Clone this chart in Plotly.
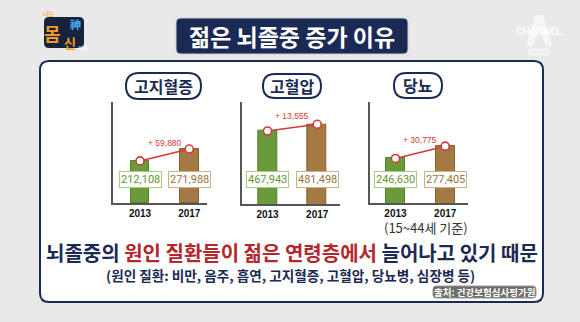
import plotly.graph_objects as go

W, H = 580, 322

# ---------------- data ----------------
years = ["2013", "2017"]
diseases = ["고지혈증", "고혈압", "당뇨"]
lipid = [212108, 271988]
pressure = [467943, 481498]
diabetes = [246630, 277405]
series = [lipid, pressure, diabetes]

title_text = "젊은 뇌졸중 증가 이유"
basis_text = "(15~44세 기준)"
main_a = "뇌졸중의 "
main_b = "원인 질환들이 젊은 연령층에서"
main_c = " 늘어나고 있기 때문"
sub_text = "(원인 질환: 비만, 음주, 흡연, 고지혈증, 고혈압, 당뇨병, 심장병 등)"
source_text = "출처: 건강보험심사평가원"

# ---------------- layout helpers ----------------
def px(x):
    return x / W

def py(y):
    return 1 - y / H

def rrect(x0, y0, x1, y1, r):
    rx, ry = r / W, r / H
    X0, X1 = px(x0), px(x1)
    Y0, Y1 = py(y0), py(y1)  # Y0 top (larger), Y1 bottom
    return (f"M {X0+rx},{Y0} L {X1-rx},{Y0} Q {X1},{Y0} {X1},{Y0-ry} "
            f"L {X1},{Y1+ry} Q {X1},{Y1} {X1-rx},{Y1} "
            f"L {X0+rx},{Y1} Q {X0},{Y1} {X0},{Y1+ry} "
            f"L {X0},{Y0-ry} Q {X0},{Y0} {X0+rx},{Y0} Z")

def poly(points):
    return "M " + " L ".join(f"{px(x)},{py(y)}" for x, y in points) + " Z"

def label(text, x, y, size, color, family="Noto Sans CJK KR", bold=True, **kw):
    d = dict(text=text, x=px(x), y=py(y), xref="paper", yref="paper", showarrow=False,
             xanchor="center", yanchor="middle",
             font=dict(family=family, size=size, color=color, weight="bold" if bold else "normal"))
    d.update(kw)
    return d

NAVY = "#1b2a55"
RED = "#d63a36"
GREEN = "#6a9b3b"
BROWN = "#a47944"
GREEN_T = "#5f9a30"
BROWN_T = "#9a7444"

# panel geometry (pixels): x-axis span, y-axis span, x-range, y-range
panels = [
    dict(xd=(113, 207), yd=(102, 203), xr=(-0.548, 1.359), yr=(0, 509000)),
    dict(xd=(242.3, 340), yd=(101.7, 204), xr=(-0.507, 1.459), yr=(320170, 527260)),
    dict(xd=(370, 468), yd=(102, 203.3), xr=(-0.513, 1.459), yr=(134040, 388240)),
]
pills = [(126, 73, 201, 99), (263, 74, 321, 98), (394, 73, 442, 98)]

fig = go.Figure()
annotations = []
shapes = []

# background panel and title box
shapes.append(dict(type="path", path=rrect(40, 61, 543, 302, 9), xref="paper", yref="paper",
                   fillcolor="white", line=dict(color=NAVY, width=2), layer="below"))
shapes.append(dict(type="path", path=rrect(176, 18, 408, 54, 5), xref="paper", yref="paper",
                   fillcolor=NAVY, line=dict(color="#c8ccd6", width=1), layer="below"))
annotations.append(label(title_text, 292, 36, 23, "white"))

# logo approximation
shapes.append(dict(type="path", path=rrect(44, 17, 84, 48, 5), xref="paper", yref="paper",
                   fillcolor="#15233f", line=dict(width=0), layer="below"))
annotations += [
    label("나는", 49, 13, 6, "#f7b24a"),
    label("몸", 52, 33, 18, "#f39a1e"),
    label("神", 75, 24, 11, "#49b0f5"),
    label("신", 70, 42, 13, "#f39a1e"),
    label("이다", 83, 48, 5, "white"),
]
# channel watermark (A shape + text)
shapes.append(dict(type="path",
                   path=poly([(526, 46), (535, 15), (543, 15), (552, 46), (545, 46),
                              (539, 26), (533, 46)]),
                   xref="paper", yref="paper", fillcolor="rgba(255,255,255,0.6)",
                   line=dict(width=0), layer="below"))
shapes.append(dict(type="path", path=rrect(528, 49, 550, 55, 3), xref="paper", yref="paper",
                   fillcolor="rgba(255,255,255,0.35)", line=dict(color="rgba(255,255,255,0.7)", width=1),
                   layer="below"))
annotations.append(label("CHANNEL", 539, 32, 10, "rgba(255,255,255,0.95)", family="Roboto"))

for i, (p, vals, name, pill) in enumerate(zip(panels, series, diseases, pills)):
    n = "" if i == 0 else str(i + 1)
    xa, ya = "x" + n, "y" + n
    fig.add_trace(go.Bar(x=years, y=vals, xaxis=xa, yaxis=ya, width=0.38,
                         marker=dict(color=[GREEN, BROWN],
                                     line=dict(color=["#557f2c", "#86612f"], width=1)),
                         hoverinfo="skip", showlegend=False))
    fig.add_trace(go.Scatter(x=years, y=vals, xaxis=xa, yaxis=ya, mode="lines+markers",
                             line=dict(color=RED, width=1.5),
                             marker=dict(symbol="circle", size=8, color="white",
                                         line=dict(color=RED, width=1.6)),
                             cliponaxis=False, hoverinfo="skip", showlegend=False))
    ax = dict(domain=[px(p["xd"][0]), px(p["xd"][1])], range=list(p["xr"]), type="category",
              showline=True, linecolor="#555555", linewidth=1.5, showgrid=False, zeroline=False,
              ticks="", tickfont=dict(family="Liberation Sans", size=10, color="#111", weight="bold"),
              anchor=ya, fixedrange=True)
    ay = dict(domain=[py(p["yd"][1]), py(p["yd"][0])], range=list(p["yr"]),
              showline=True, linecolor="#555555", linewidth=1.5, showgrid=False, zeroline=False,
              showticklabels=False, ticks="", anchor=xa, fixedrange=True)
    fig.update_layout(**{"xaxis" + n: ax, "yaxis" + n: ay})

    # change label
    diff = vals[1] - vals[0]
    annotations.append(dict(text=f"+ {diff:,}", x=0.5, y=(vals[0] + vals[1]) / 2,
                            xref=xa, yref=ya, yshift=12, showarrow=False,
                            xanchor="center", yanchor="middle",
                            font=dict(family="Liberation Sans", size=8.5, color=RED)))
    # value boxes
    for j, (yr_, v) in enumerate(zip(years, vals)):
        tc = GREEN_T if j == 0 else BROWN_T
        bc = "#a9cc8a" if j == 0 else "#cdb089"
        annotations.append(dict(text=f"{v:,}", x=j, y=py(180), xref=xa, yref="paper",
                                showarrow=False, xanchor="center", yanchor="middle",
                                bgcolor="white", bordercolor=bc, borderwidth=1, borderpad=1,
                                font=dict(family="Roboto", size=11, color=tc)))
    # pill header
    x0, y0, x1, y1 = pill
    shapes.append(dict(type="path", path=rrect(x0, y0, x1, y1, (y1 - y0) / 2), xref="paper",
                       yref="paper", fillcolor="white", line=dict(color=NAVY, width=2),
                       layer="below"))
    annotations.append(label(name, (x0 + x1) / 2, (y0 + y1) / 2, 16, NAVY))

# bottom texts
annotations.append(label(basis_text, 426, 227, 13, "#333333", bold=False))
annotations.append(label(
    (f"<span style='color:{NAVY}'>{main_a}</span>"
     f"<span style='color:#b3282c'>{main_b}</span>"
     f"<span style='color:{NAVY}'>{main_c}</span>"),
    292, 252, 20, NAVY))
annotations.append(label(sub_text, 290, 275, 13.6, NAVY))
shapes.append(dict(type="path", path=rrect(433, 286, 536, 298, 3), xref="paper", yref="paper",
                   fillcolor="#6d6d6d", line=dict(color="#9a9a9a", width=1), layer="below"))
annotations.append(label(source_text, 484.5, 292, 9.5, "white"))

fig.update_layout(width=W, height=H, margin=dict(l=0, r=0, t=0, b=0),
                  paper_bgcolor="#e9e9e9", plot_bgcolor="rgba(0,0,0,0)",
                  shapes=shapes, annotations=annotations, showlegend=False, bargap=0)
fig.write_html("out.html", config={"displayModeBar": False})
